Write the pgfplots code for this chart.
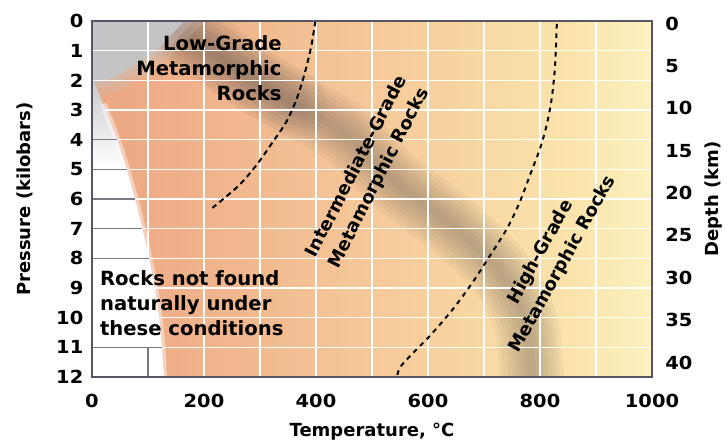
\documentclass[border=0pt]{standalone}
\usepackage{fontspec}
\setmainfont{DejaVu Sans}
\newfontfamily\tickfam{DejaVu Sans}[FakeStretch=1.08]
\usepackage{pgfplots}
\usepackage{pgfplotstable}
\pgfplotsset{compat=1.18}

% colours
\definecolor{hA}{RGB}{236,166,130}
\definecolor{hB}{RGB}{242,186,144}
\definecolor{hC}{RGB}{247,208,158}
\definecolor{hD}{RGB}{251,228,172}
\definecolor{hE}{RGB}{252,241,192}
\definecolor{bandc}{RGB}{100,90,85}
\definecolor{cornerc}{RGB}{196,196,199}
\definecolor{nfgrey}{RGB}{200,200,203}
\definecolor{axisc}{RGB}{85,85,100}
\definecolor{stubc}{RGB}{120,120,130}

\pgfdeclarehorizontalshading{heat}{100bp}{color(0bp)=(hA); color(25bp)=(hA); color(40bp)=(hB); color(55bp)=(hC); color(68bp)=(hD); color(75bp)=(hE); color(100bp)=(hE)}
\pgfdeclareverticalshading{notfound}{100bp}{color(0bp)=(white); color(60bp)=(white); color(75bp)=(nfgrey); color(100bp)=(nfgrey)}

% centre line of the grey shadow band
\pgfplotstableread{
T P
100 -0.3
200 0.9
300 2.1
390 3.1
460 3.9
540 5.4
650 7.0
730 8.5
775 10.2
788 12.6
}\bandpath

% darker upper end of the band, behind the low-grade label
\pgfplotstableread{
T P
110 -0.4
210 0.9
300 2.1
360 2.8
}\bandtop

\newcommand{\tickfont}{\fontsize{13.5}{16}\selectfont\tickfam\bfseries}
\newcommand{\labfont}{\fontsize{13.5}{16}\selectfont\bfseries}
\newcommand{\notefont}{\fontsize{14.7}{18.75}\selectfont\bfseries}
\newcommand{\rotfont}{\fontsize{13.5}{18.75}\selectfont\bfseries}

\begin{document}
\begin{tikzpicture}
\begin{axis}[
  scale only axis, width=420pt, height=267pt,
  xmin=0, xmax=1000, ymin=0, ymax=12, y dir=reverse,
  xtick={0,200,...,1000}, ytick={0,1,...,12},
  major tick length=0pt,
  axis on top,
  axis line style={draw=axisc, line width=1.3pt},
  axis background/.style={shade, shading=heat},
  no markers,
  /pgf/number format/1000 sep={},
  /pgf/number format/assume math mode=true,
  tick label style={font=\tickfont},
  xticklabel style={yshift=-9pt},
  yticklabel style={xshift=-3pt},
  xlabel={Temperature, °C},
  ylabel={Pressure (kilobars)},
  every axis x label/.style={at={(axis description cs:0.5,0)}, yshift=-41pt, anchor=center, font=\labfont},
  every axis y label/.style={at={(axis description cs:0,0.5)}, xshift=-50pt, rotate=90, anchor=center, font=\labfont},
]

% soft grey shadow band
\pgfplotsinvokeforeach{6,12,...,48}{
  \addplot[smooth, draw=bandc, draw opacity=0.06, line width=#1pt] table[x=T, y=P] {\bandpath};
}
\pgfplotsinvokeforeach{10,20,...,50}{
  \addplot[smooth, draw=bandc, draw opacity=0.05, line width=#1pt, line cap=round] table[x=T, y=P] {\bandtop};
}

% grey top-left corner
\addplot[draw=cornerc, draw opacity=0.25, line width=22pt] coordinates {(0,0) (165,0) (115,1.0) (40,1.9) (0,2.1)};
\addplot[draw=cornerc, draw opacity=0.35, line width=10pt] coordinates {(0,0) (165,0) (115,1.0) (40,1.9) (0,2.1)};
\addplot[fill=cornerc, draw=none] coordinates {(0,0) (165,0) (115,1.0) (40,1.9) (0,2.1) (0,0)};

% white grid
\pgfplotsinvokeforeach{1,...,11}{\draw[white, line width=1.1pt] (axis cs:0,#1) -- (axis cs:1000,#1);}
\pgfplotsinvokeforeach{100,200,...,900}{\draw[white, line width=1.1pt] (axis cs:#1,0) -- (axis cs:#1,12);}

% region where rocks are not found
\addplot[shade, shading=notfound, draw=none] coordinates {
  (0,1.9) (20,2.8) (45,4.0) (62,5.0) (77,6.0) (90,7.0) (102,8.0) (112,9.0) (120,10.0) (125,11.0) (128,12) (0,12) (0,1.9)};
\addplot[smooth, draw=white, draw opacity=0.45, line width=5pt] coordinates {
  (20,2.8) (45,4.0) (62,5.0) (77,6.0) (90,7.0) (102,8.0) (112,9.0) (120,10.0) (125,11.0) (128,12)};

% grey grid stubs inside the white region
\addplot[stubc, line width=0.9pt] coordinates {(0,4) (45,4)};
\addplot[stubc, line width=0.9pt] coordinates {(0,5) (62,5)};
\addplot[stubc, line width=0.9pt] coordinates {(0,6) (77,6)};
\addplot[stubc, line width=0.9pt] coordinates {(0,7) (90,7)};
\addplot[stubc, line width=0.9pt] coordinates {(0,8) (102,8)};
\addplot[stubc, line width=0.9pt] coordinates {(0,11) (125,11)};
\addplot[stubc, line width=0.9pt] coordinates {(100,11) (100,12)};

% boundaries between grades
\addplot[smooth, black, line width=1.5pt, dash pattern=on 4pt off 3pt] coordinates {
  (399,0) (391,0.9) (380,1.75) (366,2.6) (347,3.4) (322,4.1) (294,4.85) (262,5.55) (215,6.3)};
\addplot[smooth, black, line width=1.5pt, dash pattern=on 3.5pt off 3.5pt] coordinates {
  (830,0.1) (827,1.48) (821,2.6) (812,3.5) (800,4.3) (782,5.2) (764,6.1) (741,7.0) (711,7.9) (680,8.8) (645,9.7) (604,10.6) (553,11.6) (545,12)};

\node[anchor=east, align=right, inner sep=0pt, font=\notefont] at (axis cs:339,1.58) {Low-Grade\\Metamorphic\\Rocks};
\node[anchor=west, align=left, inner sep=0pt, font=\notefont] at (axis cs:14,9.5) {Rocks not found\\naturally under\\these conditions};
\node[rotate=63, align=center, inner sep=0pt, font=\rotfont] at (axis cs:493,5.1) {Intermediate-Grade\\Metamorphic Rocks};
\node[rotate=61, align=center, inner sep=0pt, font=\rotfont] at (axis cs:821,8.0) {High-Grade\\Metamorphic Rocks};

\coordinate (bl) at (axis description cs:0,0);
\coordinate (tr) at (axis description cs:1,1);
\end{axis}

\begin{axis}[
  scale only axis, width=420pt, height=267pt,
  xmin=0, xmax=1000, ymin=-0.3, ymax=41.7, y dir=reverse,
  axis x line=none, axis y line*=right,
  y axis line style={draw=none},
  ytick={0,5,...,40},
  major tick length=0pt,
  /pgf/number format/assume math mode=true,
  tick label style={font=\tickfont},
  yticklabel style={xshift=6.5pt},
  ylabel={Depth (km)},
  every axis y label/.style={at={(axis description cs:1,0.5)}, xshift=46pt, rotate=90, anchor=center, font=\labfont},
]
\end{axis}

\pgfresetboundingbox
\path ([shift={(-69pt,-51pt)}]bl) rectangle ([shift={(57pt,15.75pt)}]tr);
\end{tikzpicture}
\end{document}
